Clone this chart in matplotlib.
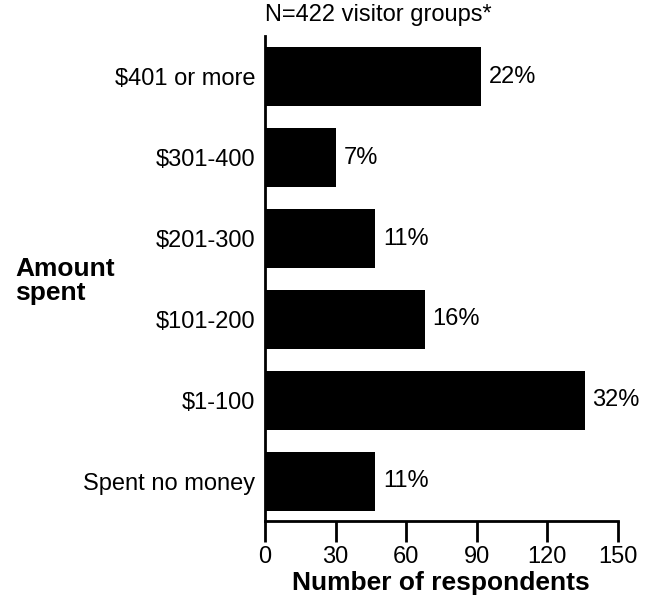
import matplotlib.pyplot as plt

plt.rcParams['font.family'] = ['Liberation Sans', 'DejaVu Sans']

# data, bottom to top
categories = ['Spent no money', '$1-100', '$101-200', '$201-300', '$301-400', '$401 or more']
counts = [47, 136, 68, 47, 30, 92]
percents = ['11%', '32%', '16%', '11%', '7%', '22%']

fig = plt.figure(figsize=(6.48, 6.14), dpi=100)
ax = fig.add_axes([0.409, 0.1515, 0.544, 0.7895])

y = range(len(categories))
bars = ax.barh(y, counts, height=0.73, color='black')

# percentage labels next to bars
for b, p in zip(bars, percents):
    ax.text(b.get_width() + 3.3, b.get_y() + b.get_height() / 2, p,
            va='center', ha='left', fontsize=17)

ax.set_xlim(0, 150)
ax.set_ylim(-0.49, 5.5)
ax.set_xticks([0, 30, 60, 90, 120, 150])
ax.set_yticks(list(y))
ax.set_yticklabels(categories)

ax.spines['top'].set_visible(False)
ax.spines['right'].set_visible(False)
ax.spines['left'].set_linewidth(2)
ax.spines['bottom'].set_linewidth(2)
ax.tick_params(axis='x', direction='out', length=15, width=2, labelsize=17, pad=3)
ax.tick_params(axis='y', length=0, labelsize=17, pad=7)

ax.set_xlabel('Number of respondents', fontsize=19, fontweight='bold', labelpad=2)
fig.text(15 / 648, 1 - 281 / 614, 'Amount\nspent', fontsize=19, fontweight='bold',
         ha='left', va='center', linespacing=1.0)
fig.text(265 / 648, 1 - 15 / 614, 'N=422 visitor groups*', fontsize=17,
         ha='left', va='center')

fig.savefig('out.png', dpi=100)
